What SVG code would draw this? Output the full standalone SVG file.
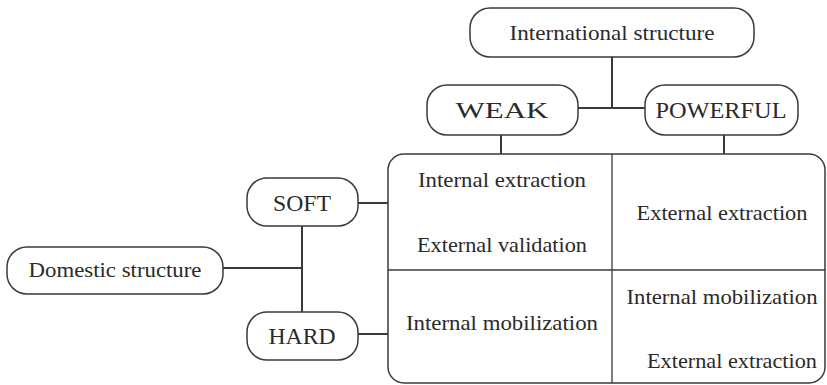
<svg xmlns="http://www.w3.org/2000/svg" width="827" height="385" viewBox="0 0 827 385">
<style>
.box{fill:#fff;stroke:#3a3a3a;stroke-width:1.5}
.ln{stroke:#3a3a3a;stroke-width:2;fill:none}
.thin{stroke:#3a3a3a;stroke-width:1.3;fill:none}
text{font-family:"Liberation Serif","DejaVu Serif",serif;font-size:21px;fill:#2a2a2a;text-anchor:middle}
.big{font-size:22px}
.caps{font-size:23px}
</style>
<rect width="827" height="385" fill="#fff"/>
<g id="connectors">
<line class="ln" x1="612" y1="57" x2="612" y2="108"/>
<line class="ln" x1="578" y1="108" x2="645" y2="108"/>
<line class="ln" x1="501" y1="135" x2="501" y2="154"/>
<line class="ln" x1="724" y1="135" x2="724" y2="154"/>
<line class="ln" x1="302" y1="226" x2="302" y2="312"/>
<line class="ln" x1="223" y1="268" x2="302" y2="268"/>
<line class="ln" x1="358" y1="203" x2="388" y2="203"/>
<line class="ln" x1="358" y1="334" x2="388" y2="334"/>
</g>
<g id="international">
<rect class="box" x="470" y="8" width="284" height="49" rx="20"/>
<text class="big" x="612" y="40" textLength="205" lengthAdjust="spacingAndGlyphs">International structure</text>
</g>
<g id="weak">
<rect class="box" x="427" y="85" width="151" height="50" rx="20"/>
<text class="caps" x="502" y="118" textLength="93" lengthAdjust="spacingAndGlyphs">WEAK</text>
</g>
<g id="powerful">
<rect class="box" x="645" y="85" width="153" height="50" rx="20"/>
<text class="caps" x="721" y="118" textLength="131" lengthAdjust="spacingAndGlyphs">POWERFUL</text>
</g>
<g id="soft">
<rect class="box" x="247" y="178" width="111" height="48" rx="20"/>
<text class="caps" x="302" y="211" textLength="58" lengthAdjust="spacingAndGlyphs">SOFT</text>
</g>
<g id="hard">
<rect class="box" x="247" y="312" width="111" height="48" rx="20"/>
<text class="caps" x="302" y="344" textLength="67" lengthAdjust="spacingAndGlyphs">HARD</text>
</g>
<g id="domestic">
<rect class="box" x="7" y="247" width="216" height="47" rx="20"/>
<text class="big" x="115" y="277" textLength="173" lengthAdjust="spacingAndGlyphs">Domestic structure</text>
</g>
<g id="matrix">
<rect class="box" x="388" y="154" width="437" height="229" rx="16"/>
<line class="thin" x1="612" y1="154" x2="612" y2="383"/>
<line class="thin" x1="388" y1="270" x2="825" y2="270"/>
<text x="502" y="187" textLength="168" lengthAdjust="spacingAndGlyphs">Internal extraction</text>
<text x="502" y="252" textLength="170" lengthAdjust="spacingAndGlyphs">External validation</text>
<text x="722" y="220" textLength="171" lengthAdjust="spacingAndGlyphs">External extraction</text>
<text x="502" y="330" textLength="192" lengthAdjust="spacingAndGlyphs">Internal mobilization</text>
<text x="722" y="304" textLength="191" lengthAdjust="spacingAndGlyphs">Internal mobilization</text>
<text x="732" y="368" textLength="170" lengthAdjust="spacingAndGlyphs">External extraction</text>
</g>
</svg>
